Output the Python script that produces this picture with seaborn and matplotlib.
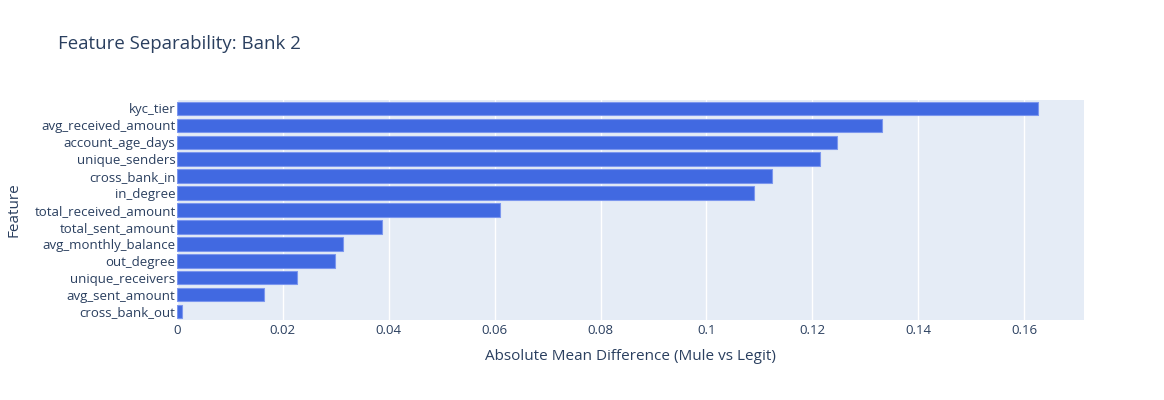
import matplotlib
matplotlib.use("Agg")
import matplotlib.pyplot as plt
import seaborn as sns
import pandas as pd
from matplotlib.ticker import FuncFormatter, MultipleLocator

features = ["kyc_tier", "avg_received_amount", "account_age_days", "unique_senders",
            "cross_bank_in", "in_degree", "total_received_amount", "total_sent_amount",
            "avg_monthly_balance", "out_degree", "unique_receivers", "avg_sent_amount",
            "cross_bank_out"]
values = [0.1626, 0.1331, 0.1247, 0.1215, 0.1124, 0.1090, 0.0610, 0.0388,
          0.0314, 0.0298, 0.0227, 0.0165, 0.0009]

df = pd.DataFrame({"Feature": features, "diff": values})

sns.set_theme(style="white")
plt.rcParams['font.family'] = ['Open Sans', 'DejaVu Sans']
text_color = "#2a3f5f"

fig = plt.figure(figsize=(11.64, 4.0), dpi=100)
ax = fig.add_axes([177/1164, 1-320/400, (1084-177)/1164, 220/400])
ax.set_facecolor("#E5ECF6")

sns.barplot(data=df, x="diff", y="Feature", order=features, orient="h",
            color="#4169E1", saturation=1, width=0.8, edgecolor="#7b96ee",
            linewidth=0.8, ax=ax, zorder=3)

ax.set_xlim(0, 0.1713)
ax.set_ylim(12.5, -0.5)
ax.xaxis.set_major_locator(MultipleLocator(0.02))
ax.xaxis.set_major_formatter(FuncFormatter(lambda v, p: f"{round(v, 4):g}"))
ax.grid(axis="x", color="white", linewidth=1.0, zorder=0)
ax.set_axisbelow(True)
for s in ax.spines.values():
    s.set_visible(False)
ax.tick_params(axis="both", length=0, labelsize=9.5, labelcolor=text_color)
ax.tick_params(axis="y", pad=1)
ax.tick_params(axis="x", pad=3)
ax.set_xlabel("")
ax.set_ylabel("")

fig.text(630/1164, 1-356/400, "Absolute Mean Difference (Mule vs Legit)",
         ha="center", va="center", fontsize=11, color=text_color)
fig.text(14/1164, 1-210/400, "Feature", ha="center", va="center",
         rotation=90, fontsize=11, color=text_color)
fig.text(58/1164, 1-44/400, "Feature Separability: Bank 2", ha="left",
         va="center", fontsize=13.4, color=text_color)

fig.savefig("out.png", dpi=100, facecolor="white")
